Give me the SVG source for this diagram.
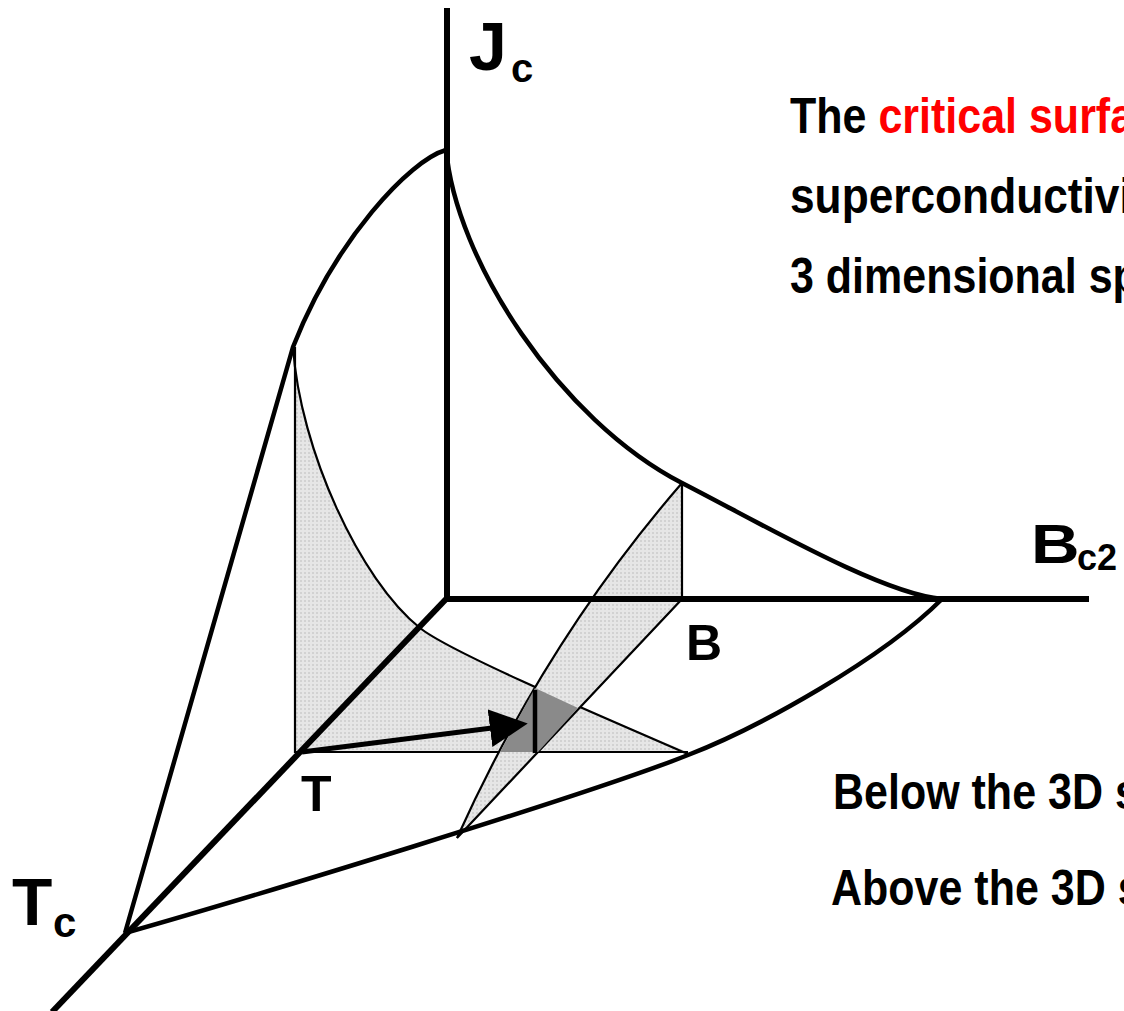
<svg xmlns="http://www.w3.org/2000/svg" width="1124" height="1011" viewBox="0 0 1124 1011">
  <defs>
    <pattern id="dots" width="4" height="4" patternUnits="userSpaceOnUse">
      <rect width="4" height="4" fill="#e6e6e6"/>
      <rect width="2" height="2" fill="#d2d2d2"/>
    </pattern>
    <marker id="arrowhead" markerUnits="userSpaceOnUse" markerWidth="44" markerHeight="44" refX="2" refY="20" orient="auto">
      <path d="M0,1 L38,20 L0,39 Z" fill="#000"/>
    </marker>
  </defs>
  <style>
    .axis { stroke:#000; stroke-width:6; fill:none; stroke-linecap:butt; }
    .curve { stroke:#000; stroke-width:4.5; fill:none; stroke-linejoin:round; }
    .thin { stroke:#000; stroke-width:2.2; fill:none; }
    .fill { fill:url(#dots); stroke:none; }
    .lbl { font-family:"Liberation Sans", Arial, sans-serif; font-weight:bold; fill:#000; }
    .txt { font-family:"Liberation Sans", Arial, sans-serif; font-weight:bold; font-size:50px; fill:#000; }
    .red { fill:#ff0000; }
  </style>
  <rect width="1124" height="1011" fill="#fff"/>

  <g id="t-plane">
    <path class="fill" d="M295,347 L295,752 L688,752 C600,716 450,652 420,628 C360,580 300,450 293,347 Z"/>
    <path class="thin" d="M295,347 L295,752 L688,752"/>
    <path class="thin" d="M293,347 C300,450 360,580 420,628 C450,652 600,716 688,754"/>
  </g>

  <g id="b-plane">
    <path class="fill" d="M682,483 L682,599 L457,838 Q546,640 682,483 Z"/>
    <path class="thin" d="M682,483 L682,599 L457,838 Q546,640 682,483"/>
  </g>

  <g id="intersection">
    <path d="M535,688 L578,708 L538,752 L500,752 Z" fill="#8a8a8a" stroke="none"/>
    <line class="curve" x1="535" y1="690" x2="535" y2="753" stroke-width="4"/>
  </g>

  <g id="axes">
    <line class="axis" x1="447" y1="8" x2="447" y2="601"/>
    <line class="axis" x1="444" y1="599" x2="1089" y2="599"/>
    <line class="axis" x1="448" y1="597" x2="52" y2="1012" stroke-width="5"/>
  </g>

  <g id="surface-curves">
    <path class="curve" d="M446,150 C410,160 335,240 293,347 L125,933"/>
    <path class="curve" d="M446,148 C455,260 560,420 682,483 C762,524 882,594 942,599"/>
    <path class="curve" d="M942,599 C882,659 760,727 688,755 C588,795 245,899 125,933"/>
  </g>

  <g id="arrow">
    <line x1="302" y1="752" x2="492" y2="728" stroke="#000" stroke-width="5" marker-end="url(#arrowhead)"/>
  </g>

  <g id="axis-labels">
    <text class="lbl" x="469" y="70" font-size="68">J</text>
    <text class="lbl" x="511" y="82" font-size="40">c</text>
    <text class="lbl" transform="translate(1031,563) scale(1.2,1)" font-size="56">B</text>
    <text class="lbl" x="1077" y="570" font-size="36">c2</text>
    <text class="lbl" x="12" y="925" font-size="66">T</text>
    <text class="lbl" x="53" y="937" font-size="42">c</text>
    <text class="lbl" x="686" y="660" font-size="50">B</text>
    <text class="lbl" x="301" y="811" font-size="50">T</text>
  </g>

  <g id="text">
    <text class="txt" transform="translate(790,133) scale(0.86,1)">The <tspan class="red">critical surface</tspan></text>
    <text class="txt" transform="translate(790,213) scale(0.885,1)">superconductivity</text>
    <text class="txt" transform="translate(790,293) scale(0.86,1)">3 dimensional space</text>
    <text class="txt" transform="translate(833,809) scale(0.86,1)">Below the 3D surface</text>
    <text class="txt" transform="translate(831,905) scale(0.86,1)">Above the 3D surface</text>
  </g>
</svg>
